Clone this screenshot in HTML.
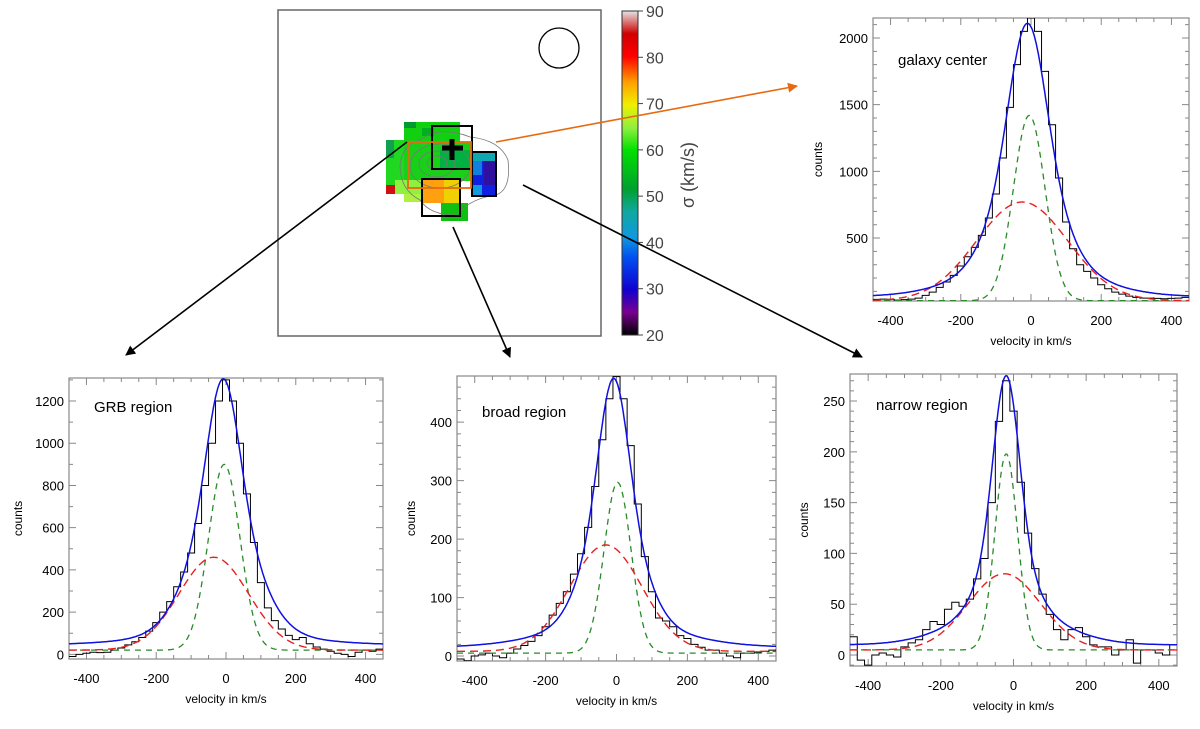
<!DOCTYPE html>
<html><head><meta charset="utf-8"><style>
html,body{margin:0;padding:0;background:#fff;}
svg{display:block;font-family:"Liberation Sans",sans-serif;}
</style></head><body>
<svg id="fig" width="1200" height="729" viewBox="0 0 1200 729">
<defs>
<linearGradient id="cbar" x1="0" y1="1" x2="0" y2="0">
<stop offset="0" stop-color="#000"/><stop offset="0.07" stop-color="#7a0090"/><stop offset="0.14" stop-color="#1000d0"/><stop offset="0.24" stop-color="#0050f0"/><stop offset="0.3" stop-color="#1098e0"/><stop offset="0.38" stop-color="#10a8a0"/><stop offset="0.45" stop-color="#00a030"/><stop offset="0.57" stop-color="#00e000"/><stop offset="0.64" stop-color="#90f040"/><stop offset="0.71" stop-color="#f0f000"/><stop offset="0.78" stop-color="#ffa000"/><stop offset="0.86" stop-color="#ff0000"/><stop offset="0.93" stop-color="#d00000"/><stop offset="1" stop-color="#e4e4e4"/>
</linearGradient>
<marker id="ahk" markerWidth="10" markerHeight="10" refX="9" refY="5" orient="auto" markerUnits="userSpaceOnUse"><path d="M0,0 L10,5 L0,10 z" fill="#000"/></marker>
<marker id="aho" markerWidth="10" markerHeight="10" refX="9" refY="5" orient="auto" markerUnits="userSpaceOnUse"><path d="M0,0 L10,5 L0,10 z" fill="#e86a10"/></marker>
</defs>

<g>
<rect x="278" y="10" width="323" height="326" fill="#fff" stroke="#666" stroke-width="1.5"/>
<circle cx="559" cy="48" r="20" fill="none" stroke="#000" stroke-width="1.3"/>
<g>
<rect x="404" y="122" width="56" height="20" fill="#10d010"/>
<rect x="404" y="122" width="12" height="6" fill="#009a30"/>
<rect x="422" y="128" width="12" height="8" fill="#00b020"/>
<rect x="386" y="140" width="22" height="46" fill="#20d820"/>
<rect x="386" y="140" width="8" height="18" fill="#10a050"/>
<rect x="404" y="140" width="68" height="41" fill="#18d018"/>
<rect x="440" y="150" width="30" height="18" fill="#00b040"/>
<rect x="460" y="124" width="12" height="18" fill="#fff"/>
<rect x="386" y="185" width="9" height="9" fill="#d01010"/>
<rect x="395" y="180" width="27" height="14" fill="#90f040"/>
<rect x="404" y="194" width="18" height="8" fill="#b0f040"/>
<rect x="422" y="180" width="38" height="23" fill="#f0d000"/>
<rect x="422" y="180" width="22" height="23" fill="#ffa010"/>
<rect x="441" y="203" width="27" height="18" fill="#10c010"/>
<rect x="422" y="203" width="19" height="13" fill="#fff"/>
<rect x="472" y="152" width="24" height="45" fill="#1020e0"/>
<rect x="472" y="152" width="24" height="9" fill="#10a8b0"/>
<rect x="484" y="161" width="12" height="24" fill="#3010a0"/>
<rect x="472" y="161" width="10" height="14" fill="#1080e0"/>
<rect x="472" y="185" width="10" height="12" fill="#1098e0"/>
</g>
<g fill="none" stroke="#777" stroke-width="0.8">
<ellipse cx="437" cy="163" rx="10" ry="7"/><ellipse cx="437" cy="164" rx="18" ry="13"/><ellipse cx="440" cy="166" rx="30" ry="22"/>
<path d="M420,140 Q440,125 470,137 Q500,140 508,160 Q512,195 490,196 Q470,200 455,215 Q430,215 420,200 Q400,190 400,165 Q402,145 420,140 z"/>
</g>
<rect x="432" y="126" width="40" height="43" fill="none" stroke="#000" stroke-width="2"/>
<rect x="472" y="152" width="24" height="44" fill="none" stroke="#000" stroke-width="2"/>
<rect x="422" y="179" width="38" height="37" fill="none" stroke="#000" stroke-width="2"/>
<rect x="408" y="142" width="63" height="46" fill="none" stroke="#e86a10" stroke-width="1.8"/>
<path d="M452,139 V160 M442,148 H463" stroke="#000" stroke-width="5"/>
</g>

<g>
<rect x="622" y="11" width="16" height="324" fill="url(#cbar)" stroke="#333" stroke-width="1"/>
<g id="cbticks" font-size="16" fill="#444"></g>
<text transform="translate(694,175) rotate(-90)" text-anchor="middle" font-size="18" fill="#444">σ (km/s)</text>
</g>

<g>
<line x1="496" y1="142" x2="797" y2="86" stroke="#e86a10" stroke-width="1.6" marker-end="url(#aho)"/>
<line x1="407" y1="142" x2="126" y2="355" stroke="#000" stroke-width="1.6" marker-end="url(#ahk)"/>
<line x1="453" y1="227" x2="510" y2="357" stroke="#000" stroke-width="1.6" marker-end="url(#ahk)"/>
<line x1="523" y1="185" x2="862" y2="357" stroke="#000" stroke-width="1.6" marker-end="url(#ahk)"/>
</g>
<g id="panels"></g>
</svg>
<script>
// shared velocity bins (km/s)
const velocityBins = [-440,-420,-400,-380,-360,-340,-320,-300,-280,-260,-240,-220,-200,-180,-160,-140,-120,-100,-80,-60,-40,-20,0,20,40,60,80,100,120,140,160,180,200,220,240,260,280,300,320,340,360,380,400,420,440];
const xTicks = [-400,-200,0,200,400];
const cbTicks = [90,80,70,60,50,40,30,20];

const galaxyCounts = [40,42,40,35,38,42,50,70,95,130,170,220,290,360,430,520,650,830,1100,1480,1800,2050,2150,2050,1750,1350,950,620,420,300,250,200,150,120,95,80,65,55,50,50,48,45,48,50,55];
const grbCounts = [-10,0,5,10,8,10,20,30,45,60,80,110,150,200,250,320,390,480,620,800,1000,1200,1300,1200,1000,760,530,340,220,160,120,90,70,80,50,35,25,15,5,0,-10,10,20,15,25];
const broadCounts = [-5,-8,0,2,5,0,-3,5,12,18,25,35,50,70,90,110,140,175,220,290,370,440,478,440,360,260,170,110,65,60,50,35,30,20,15,10,10,5,0,-3,5,5,7,8,10];
const narrowCounts = [18,-5,-10,0,2,0,-2,8,12,15,25,33,30,45,52,48,55,75,95,150,230,270,240,170,120,85,60,40,25,15,25,27,18,10,8,8,0,5,15,-8,5,5,2,0,10];

// component fits: [amp, center, sigma]
const galaxyNarrow = [1390,-5,45], galaxyBroad = [740,-25,130];
const grbNarrow = [880,-5,45], grbBroad = [440,-35,100];
const broadNarrow = [292,3,38], broadBroad = [182,-30,102];
const narrowNarrow = [193,-20,31], narrowBroad = [75,-25,100];
// total fit as three gaussian terms: amps, sigmas, center
const galaxyTotalAmp = [1000,800,250], galaxyTotalSig = [50,85,170], galaxyTotalCen = -10;
const grbTotalAmp = [620,580,60], grbTotalSig = [45,90,200], grbTotalCen = -8;
const broadTotalAmp = [220,200,40], broadTotalSig = [40,75,180], broadTotalCen = -8;
const narrowTotalAmp = [170,60,35], narrowTotalSig = [35,65,140], narrowTotalCen = -20;
// continuum levels: [green base, red base, blue base]
const galaxyCont = [30,30,60], grbCont = [20,20,45], broadCont = [5,8,15], narrowCont = [5,5,10];

const NS='http://www.w3.org/2000/svg';
function mk(tag, attrs, parent){const e=document.createElementNS(NS,tag);for(const k in attrs)e.setAttribute(k,attrs[k]);parent.appendChild(e);return e;}

const cbg=document.getElementById('cbticks');
cbTicks.forEach(v=>{
  const y=335-(v-20)/70*324;
  const t=mk('line',{x1:638,x2:643,y1:y,y2:y,stroke:'#444'},cbg);
  
  
  const l=mk('text',{x:646,y:y+6},cbg);
  l.textContent=v;
  
  
});

const panels=[
 {id:'galaxy-center',label:'galaxy center',x0:873,x1:1189,y0:18,y1:301,ymin:28,ymax:2150,yt:[500,1000,1500,2000],ym:100,counts:galaxyCounts,nar:galaxyNarrow,brd:galaxyBroad,ta:galaxyTotalAmp,ts:galaxyTotalSig,tc:galaxyTotalCen,cont:galaxyCont,lx:898,ly:65,cx:822},
 {id:'grb-region',label:'GRB region',x0:69,x1:383,y0:378,y1:659,ymin:-22,ymax:1309,yt:[0,200,400,600,800,1000,1200],ym:100,counts:grbCounts,nar:grbNarrow,brd:grbBroad,ta:grbTotalAmp,ts:grbTotalSig,tc:grbTotalCen,cont:grbCont,lx:94,ly:412,cx:22},
 {id:'broad-region',label:'broad region',x0:457,x1:776,y0:376,y1:661,ymin:-8.5,ymax:479,yt:[0,100,200,300,400],ym:20,counts:broadCounts,nar:broadNarrow,brd:broadBroad,ta:broadTotalAmp,ts:broadTotalSig,tc:broadTotalCen,cont:broadCont,lx:482,ly:417,cx:415},
 {id:'narrow-region',label:'narrow region',x0:850,x1:1177,y0:374,y1:666,ymin:-10.8,ymax:276.6,yt:[0,50,100,150,200,250],ym:10,counts:narrowCounts,nar:narrowNarrow,brd:narrowBroad,ta:narrowTotalAmp,ts:narrowTotalSig,tc:narrowTotalCen,cont:narrowCont,lx:876,ly:410,cx:808}
];
const root=document.getElementById('panels');
panels.forEach(p=>{
  const g=mk('g',{},root);
  
  
  const X=v=>p.x0+(v+450)/900*(p.x1-p.x0);
  const Y=v=>p.y1-(v-p.ymin)/(p.ymax-p.ymin)*(p.y1-p.y0);
  const cp=mk('clipPath',{id:'clip-'+p.id},g);
  mk('rect',{x:p.x0,y:p.y0,width:p.x1-p.x0,height:p.y1-p.y0},cp);
  const fr=mk('rect',{x:p.x0,y:p.y0,width:p.x1-p.x0,height:p.y1-p.y0,fill:'none',stroke:'#888','stroke-width':1.2},g);
  
  
  let td='';
  for(let v=-450;v<=450;v+=50){const x=X(v);const L=(v%200===0)?7:4;td+=`M${x},${p.y1}v${-L}M${x},${p.y0}v${L}`;}
  for(let v=Math.ceil(p.ymin/p.ym)*p.ym;v<=p.ymax;v+=p.ym){const y=Y(v);const L=p.yt.includes(v)?7:4;td+=`M${p.x0},${y}h${L}M${p.x1},${y}h${-L}`;}
  const tk=mk('path',{d:td,stroke:'#888','stroke-width':1,fill:'none'},g);
  
  
  xTicks.forEach(v=>{const t=mk('text',{x:X(v),y:p.y1+24,'text-anchor':'middle','font-size':13},g);t.textContent=v;
    
    });
  p.yt.forEach(v=>{const t=mk('text',{x:p.x0-5,y:Y(v)+5,'text-anchor':'end','font-size':13},g);t.textContent=v;
    
    });
  const xt=mk('text',{x:(p.x0+p.x1)/2,y:p.y1+44,'text-anchor':'middle','font-size':12},g);xt.textContent='velocity in km/s';
  
  
  const yt=mk('text',{transform:`translate(${p.cx},${(p.y0+p.y1)/2}) rotate(-90)`,'text-anchor':'middle','font-size':12},g);yt.textContent='counts';
  
  
  const lb=mk('text',{x:p.lx,y:p.ly,'font-size':15},g);lb.textContent=p.label;
  
  
  const pg=mk('g',{'clip-path':`url(#clip-${p.id})`},g);
  let d='';
  velocityBins.forEach((v,i)=>{const y=Y(p.counts[i]);const xa=X(v-10),xb=X(v+10);d+=(i?'L':'M')+xa+','+y+'L'+xb+','+y;});
  const h=mk('path',{d:d,fill:'none',stroke:'#000','stroke-width':1},pg);
  
  
  const gs=(a,v)=>a[0]*Math.exp(-0.5*Math.pow((v-a[1])/a[2],2));
  const tot=v=>p.cont[2]+p.ta.reduce((s,a,i)=>s+a*Math.exp(-0.5*Math.pow((v-p.tc)/p.ts[i],2)),0);
  const curve=(f)=>{let s='';for(let v=-450;v<=450;v+=3){s+=(v===-450?'M':'L')+X(v).toFixed(1)+','+Y(f(v)).toFixed(1);}return s;};
  const gr=mk('path',{d:curve(v=>p.cont[0]+gs(p.nar,v)),fill:'none',stroke:'#2a8a2a','stroke-width':1.3,'stroke-dasharray':'6,5'},pg);
  
  
  const rd=mk('path',{d:curve(v=>p.cont[1]+gs(p.brd,v)),fill:'none',stroke:'#e82020','stroke-width':1.4,'stroke-dasharray':'8,5'},pg);
  
  
  const bl=mk('path',{d:curve(tot),fill:'none',stroke:'#1010e0','stroke-width':1.5},pg);
  
  
});
</script>
</body></html>
